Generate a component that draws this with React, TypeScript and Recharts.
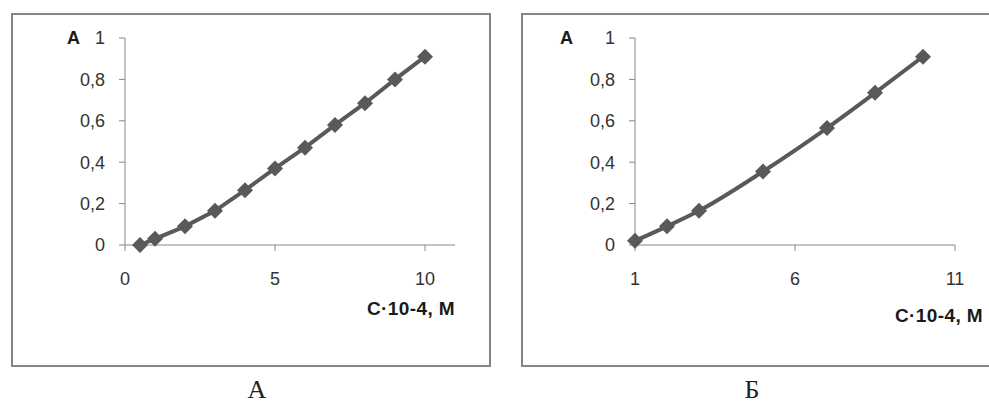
import React from 'react';
import { LineChart, Line, XAxis, YAxis } from 'recharts';

// Panel A data
const leftC = [0.5, 1, 2, 3, 4, 5, 6, 7, 8, 9, 10];
const leftA = [0, 0.03, 0.09, 0.165, 0.265, 0.37, 0.47, 0.58, 0.685, 0.8, 0.91];
// Panel Б data
const rightC = [1, 2, 3, 5, 7, 8.5, 10];
const rightA = [0.02, 0.09, 0.165, 0.355, 0.565, 0.735, 0.91];

const yTicks = [0, 0.2, 0.4, 0.6, 0.8, 1];
const leftXTicks = [0, 5, 10];
const rightXTicks = [1, 6, 11];
const yAxisTitle = 'A';
const xAxisTitle = 'C·10-4, M';
const panelLabels = ['А', 'Б'];

const leftData = leftC.map((c, i) => ({ c, a: leftA[i] }));
const rightData = rightC.map((c, i) => ({ c, a: rightA[i] }));

const LINE = '#595959';
const AXIS = '#868686';
const TEXT = '#333333';
const FONT = '"Liberation Sans", Arial, sans-serif';

const fmt = (v: number) => String(v).replace('.', ',');

const Diamond = (props: any) => {
  const { cx, cy, index } = props;
  if (cx == null || cy == null) return <g key={index} />;
  const r = 8;
  return (
    <polygon
      key={index}
      points={`${cx},${cy - r} ${cx + r},${cy} ${cx},${cy + r} ${cx - r},${cy}`}
      fill={LINE}
    />
  );
};

type PanelProps = {
  data: { c: number; a: number }[];
  xDomain: [number, number];
  xTicks: number[];
  rightMargin: number;
  smooth: boolean;
  yTitleOffset: number;
  xTitleDx: number;
  xTitleDy: number;
};

const Panel = ({ data, xDomain, xTicks, rightMargin, smooth, yTitleOffset, xTitleDx, xTitleDy }: PanelProps) => (
  <LineChart
    width={480}
    height={354}
    data={data}
    margin={{ top: 25, right: rightMargin, bottom: 62, left: 0 }}
  >
    <XAxis
      dataKey="c"
      type="number"
      domain={xDomain}
      ticks={xTicks}
      height={60}
      tickSize={6}
      tickMargin={21}
      axisLine={{ stroke: AXIS, strokeWidth: 1 }}
      tickLine={{ stroke: AXIS, strokeWidth: 1 }}
      tick={{ fill: TEXT, fontSize: 18, fontFamily: FONT }}
      tickFormatter={fmt}
      label={{
        content: (p: any) => {
          const vb = p.viewBox || {};
          return (
            <text
              x={vb.x + vb.width + xTitleDx}
              y={vb.y + xTitleDy}
              textAnchor="end"
              dominantBaseline="central"
              fontFamily={FONT}
              fontWeight="bold"
              fontSize={19}
              letterSpacing={0.4}
              fill="#1a1a1a"
            >
              {xAxisTitle}
            </text>
          );
        },
      }}
    />
    <YAxis
      dataKey="a"
      type="number"
      domain={[0, 1]}
      ticks={yTicks}
      width={114}
      tickSize={6}
      tickMargin={14}
      axisLine={{ stroke: AXIS, strokeWidth: 1 }}
      tickLine={{ stroke: AXIS, strokeWidth: 1 }}
      tick={{ fill: TEXT, fontSize: 18, fontFamily: FONT }}
      tickFormatter={fmt}
      label={{
        content: (p: any) => {
          const vb = p.viewBox || {};
          return (
            <text
              x={vb.x + vb.width - yTitleOffset}
              y={vb.y}
              textAnchor="middle"
              dominantBaseline="central"
              fontFamily={FONT}
              fontWeight="bold"
              fontSize={18}
              fill="#1a1a1a"
            >
              {yAxisTitle}
            </text>
          );
        },
      }}
    />
    <Line
      dataKey="a"
      type={smooth ? 'monotone' : 'linear'}
      stroke={LINE}
      strokeWidth={4}
      dot={Diamond}
      activeDot={false}
      isAnimationActive={false}
    />
  </LineChart>
);

const boxStyle = (left: number): React.CSSProperties => ({
  position: 'absolute',
  left,
  top: 13,
  width: 480,
  height: 354,
  border: `2px solid ${AXIS}`,
  boxSizing: 'border-box',
  background: '#fff',
});

const letterStyle = (cx: number): React.CSSProperties => ({
  position: 'absolute',
  left: cx - 50,
  top: 377,
  width: 100,
  height: 26,
  lineHeight: '26px',
  textAlign: 'center',
  fontFamily: '"Liberation Serif", "DejaVu Serif", serif',
  fontSize: 26,
  color: '#222',
});

export default function App() {
  return (
    <div
      style={{
        position: 'absolute',
        left: 0,
        top: 0,
        width: 989,
        height: 416,
        overflow: 'hidden',
        background: '#fff',
      }}
    >
      <div style={boxStyle(11)} />
      <div style={boxStyle(521)} />
      <div style={{ position: 'absolute', left: 11, top: 13 }}>
        <Panel
          data={leftData}
          xDomain={[0, 11]}
          xTicks={leftXTicks}
          rightMargin={36}
          smooth={false}
          yTitleOffset={51.5}
          xTitleDx={0}
          xTitleDy={63}
        />
      </div>
      <div style={{ position: 'absolute', left: 521, top: 13 }}>
        <Panel
          data={rightData}
          xDomain={[1, 11]}
          xTicks={rightXTicks}
          rightMargin={46}
          smooth={true}
          yTitleOffset={68.5}
          xTitleDx={28}
          xTitleDy={70}
        />
      </div>
      <div style={letterStyle(257)}>{panelLabels[0]}</div>
      <div style={letterStyle(752)}>{panelLabels[1]}</div>
    </div>
  );
}
